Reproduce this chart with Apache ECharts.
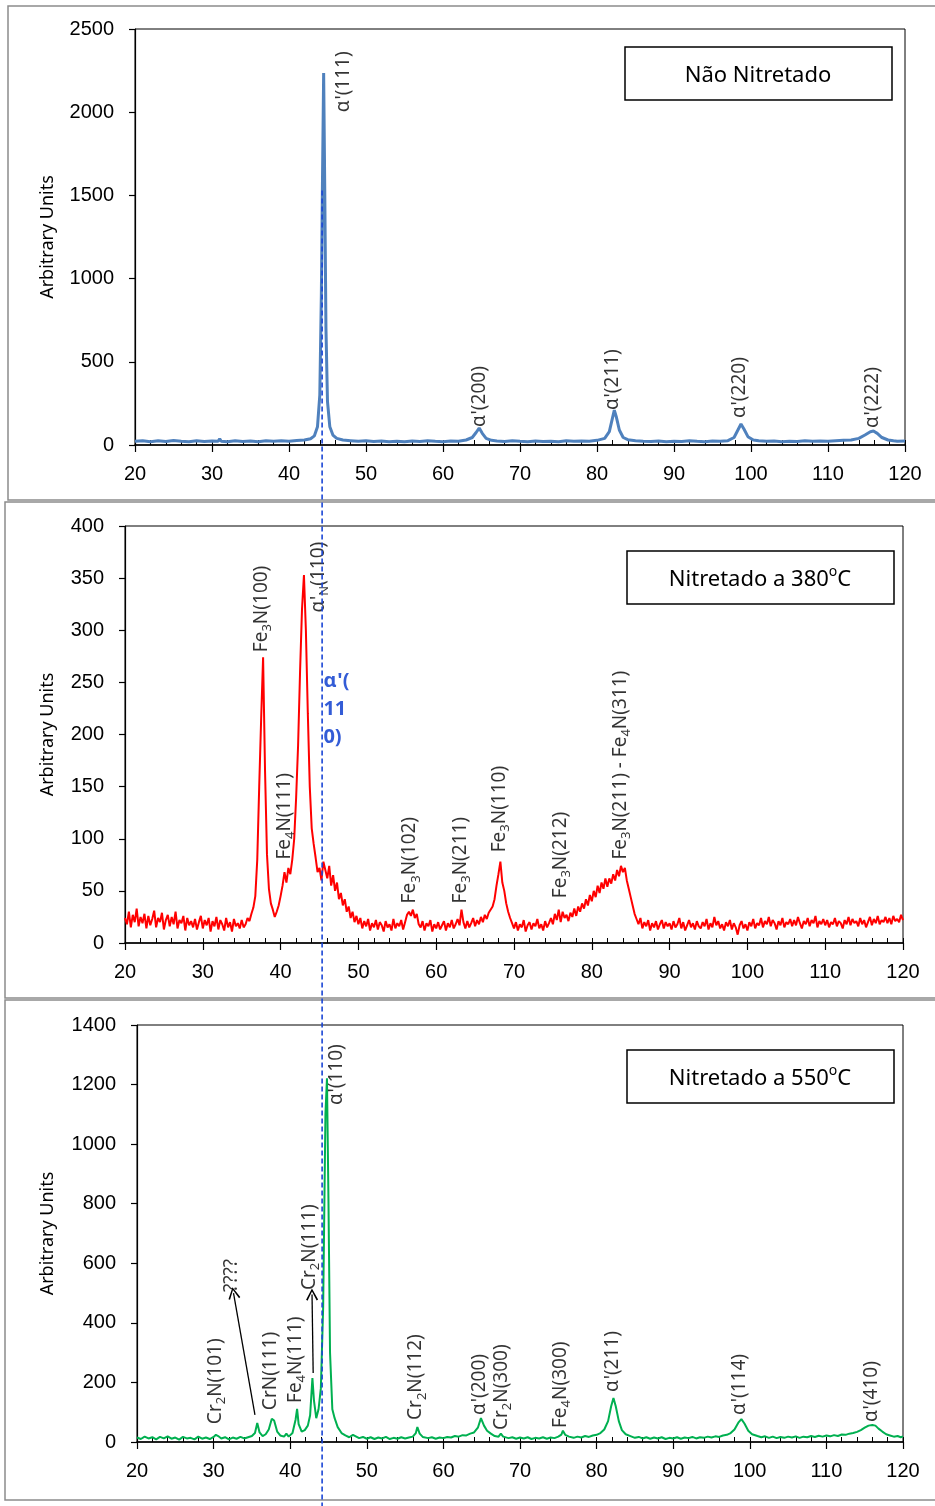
<!DOCTYPE html>
<html>
<head>
<meta charset="utf-8">
<script src="https://cdn.jsdelivr.net/npm/echarts@6/dist/echarts.min.js"></script>
<style>
  html, body { margin: 0; padding: 0; background: #fff; }
  #chart { width: 935px; height: 1506px; }
</style>
</head>
<body>
<div id="chart"></div>
<script type="text/javascript">
// eixo 2θ
var xMin = 20, xMax = 120, xMajor = 10, xMinor = 2;

// painel 1: não nitretado  [2θ, contagens]
var blueData = [[20,22],[21,26],[22,20],[23,25],[24,21],[25,27],[26,22],[27,19],[28,25],[29,21],[30,24],[30.8,22],[31.0,38],[31.2,23],[32,20],[33,25],[34,21],[35,24],[36,20],[37,26],[38,22],[39,25],[40,23],[41,27],[42,30],[42.8,38],[43.3,55],[43.7,110],[44.0,300],[44.2,900],[44.35,1600],[44.5,2235],[44.65,1500],[44.8,700],[45.0,260],[45.3,110],[45.7,60],[46.2,40],[47,30],[48,26],[49,22],[50,25],[51,21],[52,24],[53,20],[54,23],[55,19],[56,24],[57,21],[58,25],[59,22],[60,20],[61,24],[62,23],[63,30],[63.8,45],[64.3,75],[64.7,102],[65.1,70],[65.6,40],[66.3,28],[67,24],[68,21],[69,25],[70,22],[71,20],[72,24],[73,21],[74,23],[75,20],[76,25],[77,22],[78,24],[79,23],[80,28],[81,40],[81.6,80],[82.0,160],[82.25,210],[82.5,170],[82.9,90],[83.4,45],[84,32],[85,26],[86,23],[87,21],[88,24],[89,20],[90,23],[91,21],[92,25],[93,22],[94,20],[95,24],[96,22],[97,26],[97.8,45],[98.3,90],[98.7,126],[99.1,95],[99.6,50],[100.3,30],[101,25],[102,22],[103,24],[104,20],[105,23],[106,21],[107,25],[108,22],[109,24],[110,23],[111,26],[112,28],[113,30],[114,40],[114.8,60],[115.5,80],[115.9,84],[116.4,70],[117,45],[117.8,30],[118.5,25],[119,22],[120,24]];

// painel 2: nitretado a 380 °C, passo de 0.25° a partir de 20°
var redStart = 20, redStep = 0.25;
var redCounts = [
  24,18,30,15,27,20,33,16,25,19,28,14,
  26,17,23,31,15,24,20,29,13,22,27,16,
  25,18,30,14,22,19,26,12,24,17,21,15,
  23,13,20,26,14,22,17,24,11,21,16,25,
  13,22,18,12,24,15,20,11,23,16,19,14,
  22,15,18,24,21,28,34,45,
  80,150,215,274,165,85,52,38,
  32,25,30,36,
  45,55,68,58,72,66,
  80,100,140,190,260,320,353,300,220,150,110,95,82,68,
  72,60,78,70,62,74,55,65,50,58,42,48,36,42,30,35,24,30,20,26,
  18,24,14,21,16,23,12,19,15,22,13,20,17,11,21,15,18,12,23,14,19,16,22,13,
  20,27,30,26,32,24,28,18,
  15,21,12,19,16,22,11,18,14,20,13,17,21,12,19,15,22,14,18,23,
  17,32,20,14,
  21,15,19,24,16,22,18,25,20,27,23,29,
  28,35,42,55,66,78,58,50,38,30,24,19,
  14,20,12,18,15,22,11,17,20,13,19,16,23,14,18,12,21,15,19,24,
  18,28,22,32,20,30,24,27,21,29,25,33,
  26,35,30,38,33,42,36,46,40,50,44,55,48,58,52,62,
  54,62,57,66,60,70,64,74,68,72,60,52,44,36,28,23,
  18,24,14,20,16,22,12,19,15,21,13,18,22,14,20,16,
  19,13,21,15,18,24,14,20,12,17,22,15,19,13,21,16,
  14,20,16,23,13,19,15,25,17,21,14,18,12,20,16,22,
  13,19,15,8,17,21,14,18,12,20,16,23,14,19,17,24,
  15,21,18,25,16,22,19,13,21,17,24,15,20,18,23,16,
  22,17,25,19,14,21,18,24,16,22,19,26,15,21,18,23,
  17,22,15,20,18,24,16,21,19,14,22,18,25,17,23,19,
  21,16,24,18,22,15,20,25,17,23,19,26,18,22,20,25,
  19,24,18,26,21,23,20,27,22
];

// painel 3: nitretado a 550 °C
var greenData = [[20,15],[20.5,10],[21,18],[21.5,12],[22,16],[22.5,9],[23,17],[23.5,12],[24,19],[24.5,11],[25,15],[25.5,8],[26,17],[26.5,12],[27,14],[27.5,9],[28,18],[28.5,11],[29,15],[29.5,10],[30,17],[30.3,24],[30.6,20],[31,12],[31.5,16],[32,9],[32.5,15],[33,11],[33.5,17],[34,12],[34.5,16],[35,20],[35.4,30],[35.7,64],[36.0,32],[36.4,20],[36.8,26],[37.2,42],[37.6,78],[37.9,72],[38.3,35],[38.7,22],[39.2,18],[39.5,28],[39.8,18],[40.3,30],[40.7,75],[40.9,111],[41.1,60],[41.5,35],[41.9,40],[42.3,55],[42.6,90],[42.9,215],[43.1,140],[43.4,80],[43.7,110],[44.0,180],[44.3,450],[44.6,1100],[44.8,1221],[45.0,800],[45.2,300],[45.5,110],[45.8,80],[46.2,50],[46.7,30],[47.2,22],[47.7,16],[48.2,24],[48.5,20],[49,13],[49.5,17],[50,11],[50.5,16],[51,10],[51.5,15],[52,12],[52.5,17],[53,10],[53.5,14],[54,11],[54.5,16],[55,12],[55.5,15],[56,18],[56.4,30],[56.6,50],[56.9,28],[57.3,17],[58,13],[58.5,16],[59,11],[59.5,15],[60,13],[60.5,17],[61,15],[61.5,20],[62,18],[62.5,23],[63,22],[63.5,28],[64,32],[64.5,48],[64.9,80],[65.3,55],[65.7,38],[66.2,28],[66.7,20],[67.2,18],[67.5,28],[67.8,18],[68.5,13],[69,16],[69.5,11],[70,15],[70.5,12],[71,16],[71.5,10],[72,14],[72.5,12],[73,16],[73.5,11],[74,15],[74.5,13],[75,18],[75.4,25],[75.6,38],[75.9,24],[76.4,18],[77,14],[77.5,18],[78,15],[78.5,20],[79,17],[79.5,22],[80,24],[80.5,30],[81,42],[81.5,70],[81.9,120],[82.2,148],[82.5,120],[82.9,70],[83.3,40],[83.8,26],[84.5,19],[85,14],[85.5,17],[86,12],[86.5,16],[87,11],[87.5,15],[88,12],[88.5,16],[89,10],[89.5,14],[90,12],[90.5,16],[91,11],[91.5,15],[92,13],[92.5,17],[93,12],[93.5,16],[94,14],[94.5,18],[95,15],[95.5,19],[96,17],[96.5,22],[97,24],[97.5,30],[98,42],[98.5,65],[98.9,77],[99.3,62],[99.8,38],[100.3,26],[101,20],[101.5,16],[102,19],[102.5,14],[103,18],[103.5,13],[104,17],[104.5,14],[105,18],[105.5,15],[106,19],[106.5,14],[107,18],[107.5,16],[108,20],[108.5,17],[109,21],[109.5,18],[110,22],[110.5,19],[111,23],[111.5,20],[112,25],[112.5,24],[113,28],[113.5,30],[114,34],[114.5,40],[115,48],[115.5,55],[116,57],[116.4,55],[116.8,45],[117.3,35],[117.8,26],[118.3,22],[118.8,18],[119.3,20],[119.7,16],[120,19]];

// eixos y
var yMax = [2500, 400, 1400];
var yStep = [500, 50, 200];

// identificação dos picos [2θ, y da base do texto, texto]  (_x = subscrito)
var peaks1 = [[47.3, 2000, "α'(111)"], [64.9, 108, "α'(200)"], [82.2, 210, "α'(211)"], [98.7, 162, "α'(220)"], [116.0, 102, "α'(222)"]];
var peaks2 = [[37.7, 279, "Fe_3N(100)"], [45.1, 317, "α'_N(110)"], [40.7, 80, "Fe_4N(111)"], [56.8, 38, "Fe_3N(102)"], [63.3, 38, "Fe_3N(211)"], [68.3, 87, "Fe_3N(110)"], [76.2, 43, "Fe_3N(212)"], [83.9, 80, "Fe_3N(211) - Fe_4N(311)"]];
var peaks3 = [[30.4, 60, "Cr_2N(101)"], [32.5, 504, "????"], [37.6, 107, "CrN(111)"], [40.9, 131, "Fe_4N(111)"], [42.7, 510, "Cr_2N(111)"], [46.2, 1131, "α'(110)"], [56.6, 74, "Cr_2N(112)"], [64.9, 91, "α'(200)"], [67.8, 40, "Cr_2N(300)"], [75.5, 47, "Fe_4N(300)"], [82.3, 168, "α'(211)"], [98.85, 91, "α'(114)"], [116.1, 67, "α'(410)"]];
var blueNote = [[45.5, 264, "α'(\n11\n0)"]];
// setas [de, para]
var arrows3 = [[[35.4, 91], [32.6, 500]], [[43.0, 232], [42.85, 495]]];
// linha tracejada em 2θ
var dashX = 44.3, dashTop = 1530;

var panelTitles = ["Não Nitretado", "Nitretado a 380{sup|o}C", "Nitretado a 550{sup|o}C"];

var numFont = "'Liberation Sans', Arial, sans-serif";
var txtFont = "'Noto Sans', 'Open Sans', sans-serif";

var redData = redCounts.map(function (v, i) { return [redStart + i * redStep, v]; });

function richLabel(t) {
  return '{n|' + t.replace(/_(.)/g, '}{s|$1}{n|') + '}';
}

var grids = [
  { left: 135, top: 29, width: 770, height: 416 },
  { left: 125, top: 526, width: 778, height: 417 },
  { left: 137, top: 1025, width: 766, height: 417 }
];
var nameGaps = [78, 68, 80];

var xAxes = [], yAxes = [];
grids.forEach(function (g, i) {
  g.show = true;
  g.borderColor = '#000';
  g.borderWidth = 1;
  g.containLabel = false;
  g.outerBoundsMode = 'none';
  xAxes.push({
    gridIndex: i, type: 'value', min: xMin, max: xMax, interval: xMajor, position: 'bottom',
    axisLine: { show: true, onZero: false, lineStyle: { color: '#000', width: 1.5 } },
    axisTick: { show: true, inside: false, length: 7, lineStyle: { color: '#000', width: 1.2 } },
    axisLabel: { color: '#000', fontSize: 20, fontFamily: numFont, margin: 19 },
    splitLine: { show: false }
  });
  yAxes.push({
    gridIndex: i, type: 'value', min: 0, max: yMax[i], interval: yStep[i],
    name: 'Arbitrary Units', nameLocation: 'middle', nameRotate: 90, nameGap: nameGaps[i],
    nameTextStyle: { color: '#000', fontSize: 18, fontFamily: txtFont },
    axisLine: { show: true, lineStyle: { color: '#000', width: 1.2 } },
    axisTick: { show: true, inside: false, length: 6, lineStyle: { color: '#000', width: 1.2 } },
    axisLabel: { color: '#000', fontSize: 20, fontFamily: numFont, margin: 21, formatter: function (v) { return String(v); } },
    splitLine: { show: false }
  });
});
// ticks menores para dentro
grids.forEach(function (g, i) {
  xAxes.push({
    gridIndex: i, type: 'value', min: xMin, max: xMax, interval: xMinor, position: 'bottom',
    axisLine: { show: false, onZero: false }, axisLabel: { show: false }, splitLine: { show: false },
    axisTick: { show: true, inside: true, length: 5, lineStyle: { color: '#000', width: 1 } }
  });
});

var richStyle = {
  n: { fontSize: 19, fontFamily: txtFont, color: '#000', lineHeight: 22, verticalAlign: 'top' },
  s: { fontSize: 13, fontFamily: txtFont, color: '#000', lineHeight: 11, verticalAlign: 'bottom' }
};

// rótulos ficam no eixo dos ticks menores (mesma escala)
function labelSeries(idx, list) {
  return {
    type: 'scatter', xAxisIndex: idx + 3, yAxisIndex: idx, symbolSize: 0, silent: true, z: 5,
    data: list.map(function (p) {
      return { value: [p[0], p[1]], name: p[2] };
    }),
    label: {
      show: true, position: [0, 0], rotate: 90, align: 'left', verticalAlign: 'middle',
      formatter: function (p) { return richLabel(p.name); },
      rich: richStyle
    }
  };
}

function lineSeries(idx, data, color, width) {
  return {
    type: 'line', xAxisIndex: idx, yAxisIndex: idx, data: data, showSymbol: false, silent: true,
    lineStyle: { color: color, width: width }, itemStyle: { color: color }
  };
}

var green = lineSeries(2, greenData, '#00b050', 2);
green.markLine = {
  silent: true, animation: false,
  symbol: ['none', 'path://M5,0 L10,10 L8.8,10.8 L5,2.6 L1.2,10.8 L0,10 Z'],
  symbolSize: [12, 12],
  label: { show: false },
  lineStyle: { color: '#000', width: 1.3, type: 'solid' },
  data: arrows3.map(function (a) { return [{ coord: a[0] }, { coord: a[1] }]; })
};

var boxes = [[625, 47], [627, 551], [627, 1050]];
var graphic = [
  { id: 'f1', type: 'rect', shape: { x: 8, y: 6, width: 940, height: 494 }, style: { fill: 'none', stroke: '#8c8c8c', lineWidth: 1.5 }, z: 0 },
  { id: 'f2', type: 'rect', shape: { x: 5, y: 502, width: 940, height: 496 }, style: { fill: 'none', stroke: '#8c8c8c', lineWidth: 1.5 }, z: 0 },
  { id: 'f3', type: 'rect', shape: { x: 5, y: 1000, width: 940, height: 500 }, style: { fill: 'none', stroke: '#8c8c8c', lineWidth: 1.5 }, z: 0 }
];
boxes.forEach(function (b, i) {
  graphic.push({ id: 'box' + i, type: 'rect', z: 10, shape: { x: b[0], y: b[1], width: 267, height: 53 }, style: { fill: '#fff', stroke: '#000', lineWidth: 1.5 } });
  graphic.push({
    id: 'boxt' + i, type: 'text', z: 11, x: b[0] + 133, y: b[1] + 27,
    style: {
      text: '{t|' + panelTitles[i].replace('{sup|o}', '}{sup|o}{t|') + '}', align: 'center', verticalAlign: 'middle',
      rich: {
        t: { fontSize: 22, fontFamily: txtFont, fill: '#000', lineHeight: 26, verticalAlign: 'bottom' },
        sup: { fontSize: 14, fontFamily: txtFont, fill: '#000', lineHeight: 26, verticalAlign: 'top', padding: [0, 0, 8, 0] }
      }
    }
  });
});

var myChart = echarts.init(document.getElementById('chart'));
var option = {
  animation: false,
  backgroundColor: '#fff',
  grid: grids,
  xAxis: xAxes,
  yAxis: yAxes,
  series: [
    lineSeries(0, blueData, '#4f81bd', 3),
    lineSeries(1, redData, '#ff0000', 2),
    green,
    labelSeries(0, peaks1),
    labelSeries(1, peaks2),
    labelSeries(2, peaks3),
    {
      type: 'scatter', xAxisIndex: 4, yAxisIndex: 1, symbolSize: 0, silent: true, z: 5,
      data: blueNote.map(function (p) { return { value: [p[0], p[1]], name: p[2] }; }),
      label: {
        show: true, position: [0, 0], align: 'left', verticalAlign: 'top',
        formatter: function (p) { return p.name; },
        color: '#0033cc', fontWeight: 'bold', fontSize: 20, lineHeight: 28, fontFamily: txtFont
      }
    }
  ],
  graphic: graphic
};
myChart.setOption(option);

// linha tracejada vertical a partir do painel 1
var dashPt = myChart.convertToPixel({ xAxisIndex: 0, yAxisIndex: 0 }, [dashX, dashTop]);
myChart.setOption({
  graphic: graphic.concat([{
    id: 'dash', type: 'line', z: 20,
    shape: { x1: dashPt[0], y1: dashPt[1], x2: dashPt[0], y2: 1506 },
    style: { stroke: '#1a46d6', lineWidth: 1.6, lineDash: [5, 3] }
  }])
});
window.onresize = myChart.resize;
</script>
</body>
</html>
